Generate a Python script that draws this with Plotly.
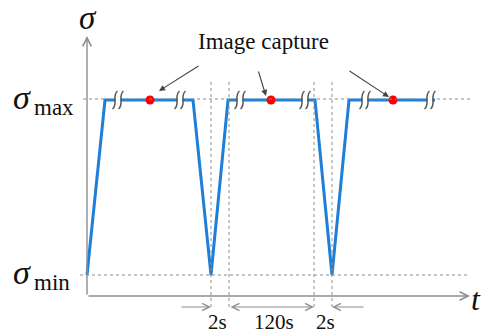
import plotly.graph_objects as go

# ---- schematic data (time in arbitrary schematic units, stress normalised: 0 = σmin, 1 = σmax)
t_path = [0, 18, 106, 124, 141, 228, 245, 262, 348]
sigma_path = [0, 1, 1, 0, 1, 1, 0, 1, 1]
capture_t = [63, 184, 306]
capture_sigma = [1, 1, 1]
break_t = [31, 93, 153, 218, 278, 343]
guide_t = [124, 142, 227, 245]
interval_labels = ["2s", "120s", "2s"]
interval_label_t = [130.5, 186.5, 238]
level_sigma = [1, 0]
level_names = ["max", "min"]

SERIF = "'Liberation Serif', 'Times New Roman', serif"
GRAY = "#8e8e8e"
BLUE = "#1f7fd8"

# pixel-to-unit helpers for a 1:1 x scale and 175 px per stress unit
PX_Y = 1 / 175.0
X0, X1 = -87, 399
Y0, Y1 = (275 - 336) * PX_Y, 275 * PX_Y

fig = go.Figure()

fig.add_trace(go.Scatter(x=t_path, y=sigma_path, mode="lines",
                         line=dict(color=BLUE, width=3), hoverinfo="skip"))

shapes = []
# horizontal dotted level lines
shapes.append(dict(type="line", xref="x", yref="y", x0=-4, x1=385, y0=1 + 1 * PX_Y, y1=1 + 1 * PX_Y,
                   line=dict(color=GRAY, width=1, dash="dot")))
shapes.append(dict(type="line", xref="x", yref="y", x0=-7, x1=382, y0=0, y1=0,
                   line=dict(color=GRAY, width=1, dash="dot")))
# vertical dotted guides
for g in guide_t:
    shapes.append(dict(type="line", xref="x", yref="y", x0=g, x1=g, y0=1.103, y1=-0.183,
                       line=dict(color=GRAY, width=1, dash="dot")))

# break marks on the plateaus
for b in break_t:
    shapes.append(dict(type="rect", xref="x", yref="y", x0=b - 2.5, x1=b + 2.5,
                       y0=1 - 3 * PX_Y, y1=1 + 3 * PX_Y, fillcolor="white", line=dict(width=0),
                       layer="above"))
    for dx in (-3, 3):
        xc = b + dx
        p = (f"M {xc-2.5},{1 - 9*PX_Y} C {xc+3.5},{1 - 4*PX_Y} {xc-3.5},{1 + 4*PX_Y} {xc+2.5},{1 + 9*PX_Y}")
        shapes.append(dict(type="path", xref="x", yref="y", path=p,
                           line=dict(color="#555555", width=1.5), layer="above"))

fig.add_trace(go.Scatter(x=capture_t, y=capture_sigma, mode="markers",
                         marker=dict(color="#ff0000", size=9), hoverinfo="skip"))

ann = []
# axes as arrows
ax_sigma = -21 * PX_Y
ann.append(dict(x=0, y=(275 - 36) * PX_Y, ax=0, ay=ax_sigma, xref="x", yref="y", axref="x", ayref="y",
                showarrow=True, arrowhead=5, arrowsize=1.2, arrowwidth=1.4, arrowcolor=GRAY, text=""))
ann.append(dict(x=383, y=ax_sigma, ax=0, ay=ax_sigma, xref="x", yref="y", axref="x", ayref="y",
                showarrow=True, arrowhead=5, arrowsize=1.2, arrowwidth=1.4, arrowcolor=GRAY, text=""))

# dimension arrows
dim_y = -0.183
ann.append(dict(x=guide_t[0], y=dim_y, ax=93, ay=dim_y, xref="x", yref="y", axref="x", ayref="y",
                showarrow=True, arrowhead=5, arrowsize=1.2, arrowwidth=1.2, arrowcolor=GRAY, text=""))
ann.append(dict(x=guide_t[2], y=dim_y, ax=guide_t[1], ay=dim_y, xref="x", yref="y", axref="x", ayref="y",
                showarrow=True, arrowhead=5, startarrowhead=5, arrowside="end+start",
                arrowsize=1.2, startarrowsize=1.2, arrowwidth=1.2, arrowcolor=GRAY, text=""))
ann.append(dict(x=guide_t[3], y=dim_y, ax=278, ay=dim_y, xref="x", yref="y", axref="x", ayref="y",
                showarrow=True, arrowhead=5, arrowsize=1.2, arrowwidth=1.2, arrowcolor=GRAY, text=""))

for lab, lt in zip(interval_labels, interval_label_t):
    ann.append(dict(x=lt, y=(275 - 322) * PX_Y, xref="x", yref="y", text=lab, showarrow=False,
                    font=dict(family=SERIF, size=21, color="#111"), xanchor="center", yanchor="middle"))

# image capture label & arrows
ann.append(dict(x=176.5, y=(275 - 41) * PX_Y, xref="x", yref="y", text="Image capture", showarrow=False,
                font=dict(family=SERIF, size=23, color="#111"), xanchor="center", yanchor="middle"))
tails = [(113, (275 - 65) * PX_Y), (171, (275 - 70) * PX_Y), (261, (275 - 70) * PX_Y)]
heads = [(72, (275 - 91) * PX_Y), (179, (275 - 96) * PX_Y), (302, (275 - 97) * PX_Y)]
for (tx, ty), (hx, hy) in zip(tails, heads):
    ann.append(dict(x=hx, y=hy, ax=tx, ay=ty, xref="x", yref="y", axref="x", ayref="y",
                    showarrow=True, arrowhead=2, arrowsize=1.1, arrowwidth=1.1, arrowcolor="#444", text=""))

# axis labels
ann.append(dict(x=1, y=(275 - 17.5) * PX_Y, xref="x", yref="y", text="<i>σ</i>", showarrow=False,
                font=dict(family=SERIF, size=33, color="#111"), xanchor="center", yanchor="middle"))
ann.append(dict(x=389, y=(275 - 299) * PX_Y, xref="x", yref="y", text="<i>t</i>", showarrow=False,
                font=dict(family=SERIF, size=32, color="#111"), xanchor="center", yanchor="middle"))
for s, name in zip(level_sigma, level_names):
    ann.append(dict(x=-65.5, y=s + 3 * PX_Y, xref="x", yref="y", text="<i>σ</i>", showarrow=False,
                    font=dict(family=SERIF, size=34, color="#111"), xanchor="center", yanchor="middle"))
    ann.append(dict(x=-55, y=s - 7 * PX_Y, xref="x", yref="y", text=name, showarrow=False,
                    font=dict(family=SERIF, size=23, color="#111"), xanchor="left", yanchor="middle"))

fig.update_layout(width=486, height=336, margin=dict(l=0, r=0, t=0, b=0),
                  paper_bgcolor="white", plot_bgcolor="white", showlegend=False,
                  xaxis=dict(range=[X0, X1], visible=False, fixedrange=True),
                  yaxis=dict(range=[Y0, Y1], visible=False, fixedrange=True),
                  shapes=shapes, annotations=ann)

fig.write_html("out.html", config={"displayModeBar": False},
               post_script="document.body.style.margin='0';document.body.style.overflow='hidden';")
